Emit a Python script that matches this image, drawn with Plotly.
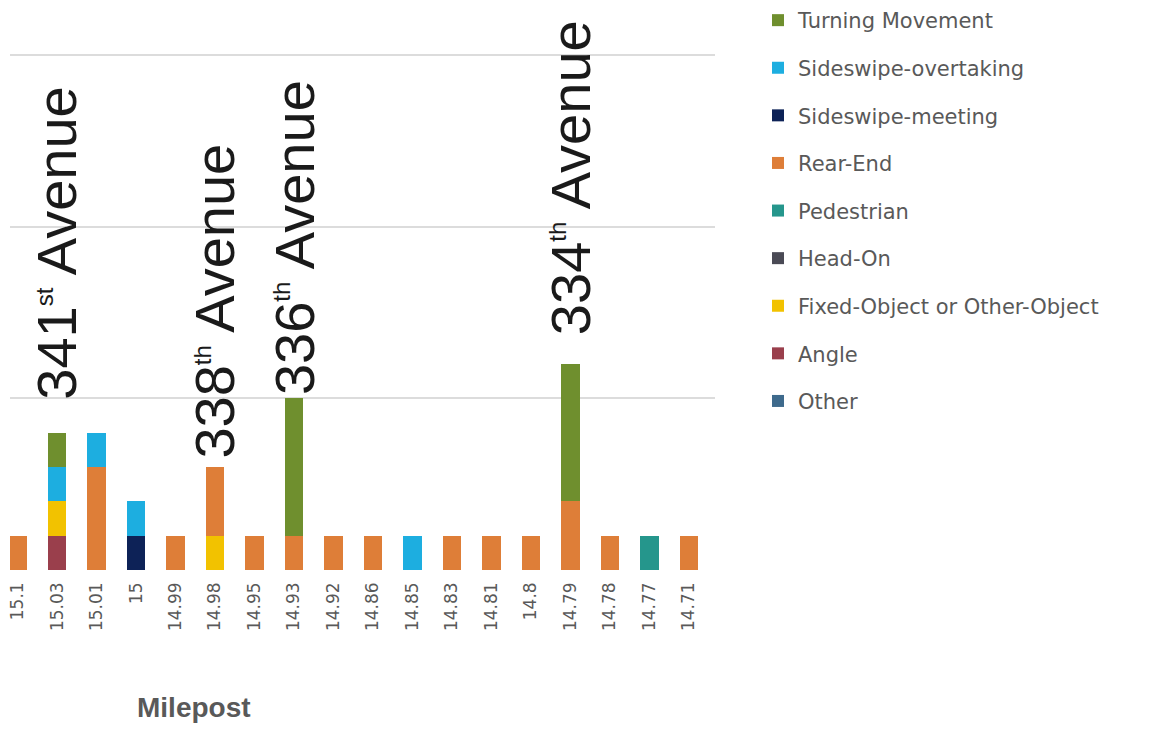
import plotly.graph_objects as go

# Milepost categories along the corridor
mileposts = ["15.1", "15.03", "15.01", "15", "14.99", "14.98", "14.95", "14.93", "14.92",
             "14.86", "14.85", "14.83", "14.81", "14.8", "14.79", "14.78", "14.77", "14.71"]

# Crash counts by type at each milepost
other =            [0, 0, 0, 0, 0, 0, 0, 0, 0, 0, 0, 0, 0, 0, 0, 0, 0, 0]
angle =            [0, 1, 0, 0, 0, 0, 0, 0, 0, 0, 0, 0, 0, 0, 0, 0, 0, 0]
fixed_object =     [0, 1, 0, 0, 0, 1, 0, 0, 0, 0, 0, 0, 0, 0, 0, 0, 0, 0]
head_on =          [0, 0, 0, 0, 0, 0, 0, 0, 0, 0, 0, 0, 0, 0, 0, 0, 0, 0]
pedestrian =       [0, 0, 0, 0, 0, 0, 0, 0, 0, 0, 0, 0, 0, 0, 0, 0, 1, 0]
rear_end =         [1, 0, 3, 0, 1, 2, 1, 1, 1, 1, 0, 1, 1, 1, 2, 1, 0, 1]
sideswipe_meet =   [0, 0, 0, 1, 0, 0, 0, 0, 0, 0, 0, 0, 0, 0, 0, 0, 0, 0]
sideswipe_over =   [0, 1, 1, 1, 0, 0, 0, 0, 0, 0, 1, 0, 0, 0, 0, 0, 0, 0]
turning =          [0, 1, 0, 0, 0, 0, 0, 4, 0, 0, 0, 0, 0, 0, 4, 0, 0, 0]

# Cross-street labels: (milepost, number, ordinal suffix, height where the label starts)
street_labels = [
    ("15.03", "341", "st", 4.9),
    ("14.98", "338", "th", 3.2),
    ("14.93", "336", "th", 5.05),
    ("14.79", "334", "th", 6.78),
]

# Stacked bottom to top; legend lists them top to bottom in reverse
series = [
    ("Other", other, "#3E6A8C"),
    ("Angle", angle, "#9A3F4C"),
    ("Fixed-Object or Other-Object", fixed_object, "#F2C200"),
    ("Head-On", head_on, "#4A4A55"),
    ("Pedestrian", pedestrian, "#25968C"),
    ("Rear-End", rear_end, "#DE7E38"),
    ("Sideswipe-meeting", sideswipe_meet, "#0D2257"),
    ("Sideswipe-overtaking", sideswipe_over, "#1DAEE0"),
    ("Turning Movement", turning, "#6F8F2E"),
]

fig = go.Figure()
n = len(series)
for i, (name, vals, color) in enumerate(series):
    fig.add_trace(go.Bar(
        x=mileposts, y=vals, name=name, legendgroup=name,
        legendrank=n - i,
        marker=dict(color=color, line=dict(width=0)),
    ))

font_family = "Liberation Sans, Arial, sans-serif"
wide_family = "DejaVu Sans, Verdana, sans-serif"

for mp, num, suffix, ypos in street_labels:
    label = f"{num}<sup><span style='font-size:24px'>{suffix}</span></sup> Avenue"
    fig.add_annotation(
        x=mileposts.index(mp), y=ypos, xref="x", yref="y", text=label, textangle=-90,
        showarrow=False, xanchor="center", yanchor="bottom",
        font=dict(family=font_family, size=56, color="#1A1A1A"),
    )

# Axis title placed under the left part of the axis
plot_left, plot_right, plot_bottom = 10, 1172 - 457, 570
fig.add_annotation(
    xref="paper", yref="paper",
    x=(194 - plot_left) / (plot_right - plot_left), y=-(707 - plot_bottom) / plot_bottom,
    xanchor="center", yanchor="middle",
    text="<b>Milepost</b>", showarrow=False,
    font=dict(family=font_family, size=28, color="#595959"),
)

fig.update_layout(
    width=1172, height=730,
    barmode="stack", bargap=0.54,
    plot_bgcolor="white", paper_bgcolor="white",
    margin=dict(l=plot_left, r=457, t=0, b=160),
    font=dict(family=font_family, color="#595959"),
    showlegend=True,
    legend=dict(
        traceorder="grouped", tracegroupgap=17.3,
        x=(758 - plot_left) / (plot_right - plot_left), xanchor="left",
        y=1.0, yanchor="top",
        font=dict(family=wide_family, size=21, color="#595959"),
        bgcolor="rgba(0,0,0,0)",
    ),
    xaxis=dict(
        type="category", range=[-0.19, 17.66],
        tickangle=-90, tickfont=dict(family=wide_family, size=17, color="#595959"),
        ticklabelstandoff=8,
        showgrid=False, showline=False, zeroline=False, ticks="",
    ),
    yaxis=dict(
        range=[0, 16.6], tickvals=[5, 10, 15], showticklabels=False,
        showgrid=True, gridcolor="#DCDCDC", gridwidth=1.5,
        zeroline=False, showline=False,
    ),
)

fig.write_html("out.html")
